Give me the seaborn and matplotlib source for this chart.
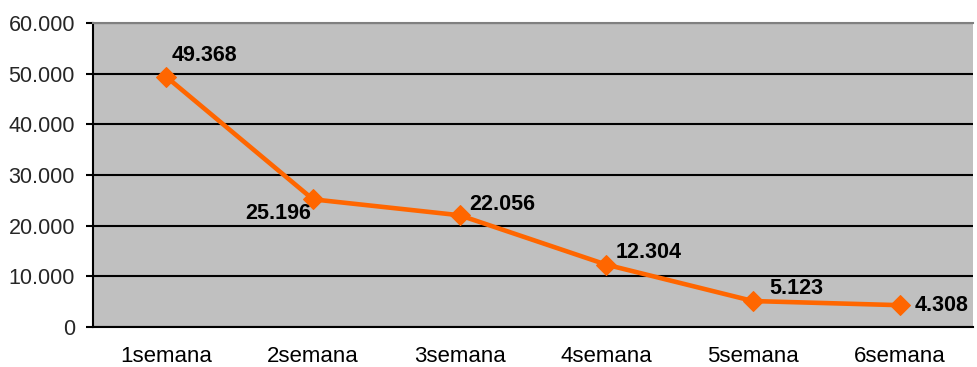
import matplotlib
matplotlib.use("Agg")
import matplotlib.pyplot as plt
import seaborn as sns
import pandas as pd
from matplotlib.ticker import FuncFormatter, MultipleLocator, FixedLocator

weeks = ["1semana", "2semana", "3semana", "4semana", "5semana", "6semana"]
values = [49368, 25196, 22056, 12304, 5123, 4308]
labels = ["49.368", "25.196", "22.056", "12.304", "5.123", "4.308"]

# label offsets in pixels (dx, dy upward) and horizontal alignment
label_pos = [
    ((5, 21), "left"),
    ((-2, -14), "right"),
    ((10, 11), "left"),
    ((9, 12), "left"),
    ((16, 13), "left"),
    ((15, 0), "left"),
]

sns.set_style("white")
plt.rcParams["font.family"] = ["Liberation Sans", "DejaVu Sans"]

df = pd.DataFrame({"semana": range(len(weeks)), "valor": values})

fig = plt.figure(figsize=(9.78, 3.67), dpi=100)
ax = fig.add_axes([93 / 978, 1 - 327 / 367, 880 / 978, 304 / 367])
ax.set_facecolor("#C0C0C0")

sns.lineplot(data=df, x="semana", y="valor", ax=ax, color="#FF6600",
             linewidth=3.3, marker="D", markersize=10, markeredgecolor="#FF6600",
             zorder=5)

ax.set_xlim(-0.5, len(weeks) - 0.5)
ax.set_ylim(0, 60000)
ax.yaxis.set_major_locator(MultipleLocator(10000))
ax.yaxis.set_major_formatter(FuncFormatter(lambda v, p: f"{int(v):,}".replace(",", ".")))
ax.set_xticks(range(len(weeks)))
ax.set_xticklabels(weeks)
ax.xaxis.set_minor_locator(FixedLocator([i - 0.5 for i in range(len(weeks) + 1)]))
ax.tick_params(axis="x", which="major", length=0, labelsize=16, pad=14, colors="black")
ax.tick_params(axis="x", which="minor", length=5, width=1.5, color="black", direction="out")
ax.tick_params(axis="y", length=5, width=1.5, color="black", direction="out",
               labelsize=15.5, pad=8, left=True)

ax.grid(True, axis="y", color="black", linewidth=1.5, zorder=1)
ax.set_axisbelow(True)
ax.set_xlabel("")
ax.set_ylabel("")

for side in ["left", "bottom"]:
    ax.spines[side].set_color("black")
    ax.spines[side].set_linewidth(1.5)
ax.spines["top"].set_color("#808080")
ax.spines["top"].set_linewidth(1.5)
ax.spines["right"].set_visible(False)

px = 72 / fig.dpi
for i, (val, txt) in enumerate(zip(values, labels)):
    (dx, dy), ha = label_pos[i]
    ax.annotate(txt, (i, val), xytext=(dx * px, dy * px), textcoords="offset points",
                ha=ha, va="center", fontsize=15.5, fontweight="bold", color="black",
                zorder=6)

fig.savefig("out.png", dpi=100)
